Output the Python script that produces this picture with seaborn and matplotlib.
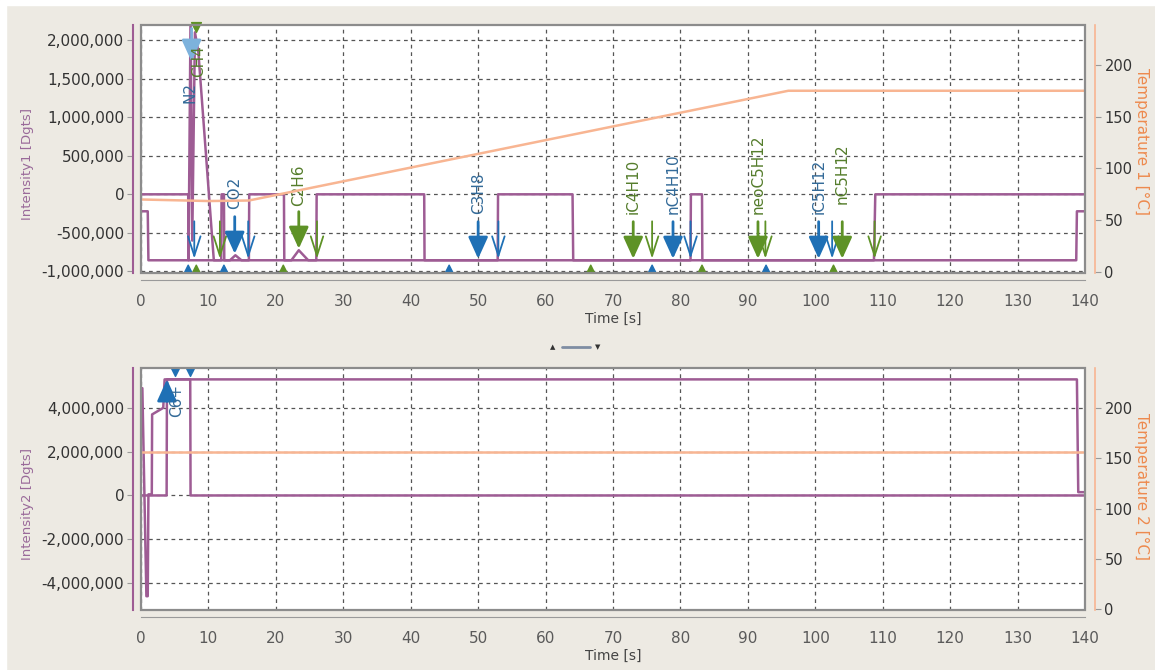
import numpy as np
import pandas as pd
import seaborn as sns
import matplotlib.pyplot as plt
from matplotlib.patches import Rectangle
from matplotlib.lines import Line2D
from matplotlib.ticker import FuncFormatter, MultipleLocator

# ---- data ----
# panel 1, detector trace with peaks and baseline switching
time_1a = [0, 7.0, 7.05, 7.35, 7.6, 8.0, 8.5, 10.8, 11.9, 11.95, 12.3, 12.35, 13.2, 14.0, 14.9,
           16.0, 16.05, 21.2, 21.25, 22.3, 23.4, 24.8, 26.0, 26.05, 42.0, 42.05, 52.9, 52.95,
           64.0, 64.1, 81.5, 81.55, 83.2, 83.25, 108.7, 108.9, 140]
intensity_1a = [0, 0, -855e3, 2.3e6, -600e3, 2.1e6, 1.85e6, -855e3, -855e3, 0, 0, -855e3, -855e3,
                -790e3, -855e3, -855e3, 0, 0, -855e3, -855e3, -725e3, -855e3, -855e3, 0, 0,
                -855e3, -855e3, 0, 0, -855e3, -855e3, 0, 0, -855e3, -855e3, 0, 0]
# panel 1, second trace
time_1b = [0, 1.0, 1.1, 138.7, 138.8, 140]
intensity_1b = [-220e3, -220e3, -855e3, -855e3, -220e3, -220e3]
# panel 1 temperature
time_t1 = [0, 10, 16, 96, 140]
temp_1 = [70, 68.5, 69, 175, 175]

# panel 2 traces
time_2a = [0.05, 0.2, 0.8, 1.0, 1.1, 1.6, 1.65, 3.3, 3.5, 138.8, 139.0, 140]
intensity_2a = [4.9e6, 4.9e6, -4.6e6, -4.6e6, 0.05e6, 0.05e6, 3.7e6, 4.0e6, 5.3e6, 5.3e6, 0.15e6, 0.15e6]
time_2b = [0, 3.8, 3.85, 7.3, 7.35, 140]
intensity_2b = [0, 0, 5.3e6, 5.3e6, 0, 0]
time_t2 = [0, 140]
temp_2 = [156, 156]

# identified peaks (panel 1)
peak_names = ['N2', 'CH4', 'CO2', 'C2H6', 'C3H8', 'iC4H10', 'nC4H10', 'neoC5H12', 'iC5H12', 'nC5H12']
peak_group = ['blue', 'green', 'blue', 'green', 'blue', 'green', 'blue', 'green', 'blue', 'green']
peak_apex = [7.5, 8.1, 13.9, 23.4, 50.0, 73.0, 78.9, 91.5, 100.5, 104.0]
peak_height = [2.3e6, 2.1e6, -790e3, -725e3, -855e3, -855e3, -855e3, -855e3, -855e3, -855e3]
peak_end = [7.9, 11.7, 15.9, 26.1, 53.0, 75.8, 81.5, 92.6, 102.5, 108.8]
peak_start = [7.0, 8.2, 12.3, 21.1, 45.7, 66.7, 75.8, 83.2, 92.7, 102.7]

# panel 2 peak
peak2_name = 'C6+'
peak2_apex = 5.3
peak2_start = 3.85
peak2_marks = [5.0, 7.3]

# ---- style ----
sns.set_style('white')
plt.rcParams['font.family'] = ['DejaVu Sans']

BG = '#EDEAE3'
PURPLE = '#9E5C94'
ORANGE = '#F8B592'
COLS = {'blue': '#1F70B5', 'green': '#5E9226'}
LABCOLS = {'blue': '#336A98', 'green': '#557D2C'}
W, H = 1155, 670

FILLED = dict(arrowstyle='-|>,head_length=1.1,head_width=0.5', lw=2, mutation_scale=12,
              shrinkA=0, shrinkB=0)
OPEN = dict(arrowstyle='->,head_length=1.4,head_width=0.45', lw=1.3, mutation_scale=10,
            shrinkA=0, shrinkB=0)

fig = plt.figure(figsize=(11.55, 6.70), dpi=100, facecolor=BG)
fig.patches.append(Rectangle((0, 1 - 5 / H), 1, 5 / H, transform=fig.transFigure, color='white', zorder=0))
fig.patches.append(Rectangle((0, 0), 6 / W, 1, transform=fig.transFigure, color='white', zorder=0))


def box(l, t, r, b):
    return [l / W, 1 - b / H, (r - l) / W, (b - t) / H]


fmt = FuncFormatter(lambda v, p: f'{int(round(v)):,}')


def setup_panel(ax, tax, ylim, ystep, tlim, ylab, tlab, ylab_y, tlab_y):
    ax.set_facecolor('white')
    ax.set_xlim(0, 140)
    ax.set_ylim(*ylim)
    tax.set_ylim(*tlim)
    ax.xaxis.set_major_locator(MultipleLocator(10))
    ax.yaxis.set_major_locator(MultipleLocator(ystep))
    ax.yaxis.set_major_formatter(fmt)
    tax.yaxis.set_major_locator(MultipleLocator(50))
    ax.grid(True, color='#555555', ls=(0, (3, 3)), lw=0.9)
    ax.set_axisbelow(True)
    for s in ['top', 'right']:
        ax.spines[s].set_visible(False)
    ax.spines['left'].set_position(('outward', 6))
    ax.spines['left'].set_color(PURPLE)
    ax.spines['left'].set_linewidth(1.5)
    ax.spines['bottom'].set_position(('outward', 5))
    ax.spines['bottom'].set_color('#9a9a9a')
    for s in ['top', 'left', 'bottom']:
        tax.spines[s].set_visible(False)
    tax.spines['right'].set_position(('outward', 7))
    tax.spines['right'].set_color(ORANGE)
    tax.spines['right'].set_linewidth(1.2)
    ax.tick_params(axis='y', length=4, color='#999999', labelcolor='#333333', labelsize=11, pad=2)
    ax.tick_params(axis='x', length=4, color='#999999', labelcolor='#5a5a5a', labelsize=11, pad=6)
    tax.tick_params(axis='y', length=4, color='#999999', labelcolor='#333333', labelsize=10.5, pad=3)
    ax.set_xlabel('Time [s]', color='#444444', fontsize=10, labelpad=2)
    ax.set_ylabel(ylab, color='#9A6A9A', fontsize=9.5)
    ax.yaxis.set_label_coords(-0.113, ylab_y)
    tax.set_ylabel(tlab, color='#EE8A4E', fontsize=11, rotation=270, va='bottom')
    tax.yaxis.set_label_coords(1.052, tlab_y)
    tax.add_patch(Rectangle((0, 0), 1, 1, transform=tax.transAxes, fill=False,
                            edgecolor='#8c8c8c', lw=1.6, zorder=20, clip_on=False))


def draw_line(ax, t, v, color, lw, z=3):
    df = pd.DataFrame({'t': t, 'v': v})
    sns.lineplot(data=df, x='t', y='v', ax=ax, color=color, lw=lw, estimator=None,
                 sort=False, zorder=z)


# ---- panel 1 ----
ax1 = fig.add_axes(box(141, 25, 1085, 273))
tax1 = ax1.twinx()
draw_line(tax1, time_t1, temp_1, ORANGE, 1.8, 2)
draw_line(ax1, time_1b, intensity_1b, PURPLE, 1.8)
draw_line(ax1, time_1a, intensity_1a, PURPLE, 1.8)
setup_panel(ax1, tax1, (-1.02e6, 2.195e6), 500e3, (-1, 238.5),
            'Intensity1 [Dgts]', 'Temperature 1 [°C]', 0.44, 0.53)

# label placement tweaks for the crowded N2/CH4 pair and a few raised labels
label_y = {'N2': 1.18e6, 'CH4': 1.52e6, 'C2H6': -150e3, 'nC5H12': -130e3}
label_dx = {'N2': -0.2, 'CH4': 0.4}
for name, grp, ta, h, te in zip(peak_names, peak_group, peak_apex, peak_height, peak_end):
    col = COLS[grp]
    if h > 1e6:
        if grp == 'blue':
            ax1.annotate('', xy=(ta, 1.72e6), xytext=(ta, 2.15e6),
                         arrowprops=dict(FILLED, color='#7DB2DC'), zorder=6)
        else:
            ax1.scatter([ta], [2.17e6], marker='v', s=50, color=col, zorder=6, clip_on=False)
    else:
        ax1.annotate('', xy=(ta, h + 20e3), xytext=(ta, h + 500e3),
                     arrowprops=dict(FILLED, color=col), zorder=6)
    ax1.annotate('', xy=(te, -835e3), xytext=(te, -350e3),
                 arrowprops=dict(OPEN, color=col), zorder=6)
    ly = label_y.get(name, h + 600e3)
    ax1.text(ta + label_dx.get(name, 0), ly, name, rotation=90, ha='center', va='bottom',
             color=LABCOLS[grp], fontsize=11, zorder=7)

ax1.scatter(peak_start, [-975e3] * len(peak_start), marker='^', s=40,
            c=[COLS[g] for g in peak_group], zorder=6)

# ---- panel 2 ----
ax2 = fig.add_axes(box(141, 368, 1085, 610))
tax2 = ax2.twinx()
draw_line(tax2, time_t2, temp_2, ORANGE, 1.8, 2)
draw_line(ax2, time_2b, intensity_2b, PURPLE, 1.8)
draw_line(ax2, time_2a, intensity_2a, PURPLE, 1.8)
setup_panel(ax2, tax2, (-5.23e6, 5.82e6), 2e6, (-1, 240),
            'Intensity2 [Dgts]', 'Temperature 2 [°C]', 0.44, 0.51)

ax2.annotate('', xy=(peak2_start, 5.3e6), xytext=(peak2_start, 4.3e6),
             arrowprops=dict(FILLED, color=COLS['blue']), zorder=6)
ax2.text(peak2_apex, 3.6e6, peak2_name, rotation=90, ha='center', va='bottom',
         color=LABCOLS['blue'], fontsize=11, zorder=7)
ax2.scatter(peak2_marks, [5.7e6] * len(peak2_marks), marker='v', s=50, color=COLS['blue'], zorder=6)

# splitter handle between the panels
fig.text(553 / W, 1 - 347 / H, '▲', fontsize=5, color='#333333', ha='center', va='center')
fig.text(598 / W, 1 - 347 / H, '▼', fontsize=5, color='#333333', ha='center', va='center')
fig.add_artist(Line2D([562 / W, 590 / W], [1 - 347 / H] * 2, color='#7F8DA3', lw=2))

fig.savefig('out.png', dpi=100, facecolor=BG)
